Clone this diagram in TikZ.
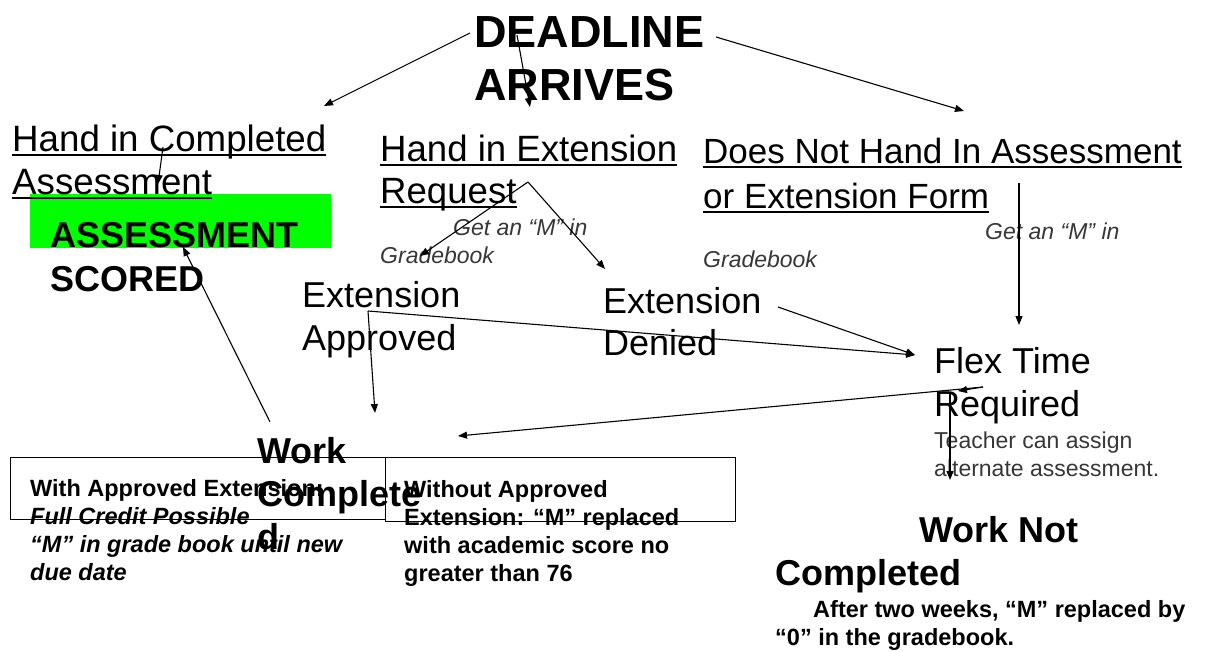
\documentclass[tikz,border=0pt]{standalone}
\usepackage{fontspec}
\setmainfont{Liberation Sans}
\usetikzlibrary{arrows.meta,positioning}
\definecolor{scoregreen}{RGB}{0,255,0}
\definecolor{notegray}{RGB}{55,55,55}
\newcommand{\undl}[1]{\setbox0\hbox{#1}\rlap{\vrule height -2.5pt depth 4.5pt width \wd0}\box0}
\newcommand{\fsz}[2]{\fontsize{#1}{#2}\selectfont}

\begin{document}
\begin{tikzpicture}[x=1pt, y=-1pt,
  txt/.style={anchor=base west, inner sep=0pt, align=left},
  head/.style={txt, font=\fsz{36}{42}},
  bighead/.style={txt, font=\fsz{45}{53}\bfseries},
  boldhead/.style={txt, font=\fsz{36}{43}\bfseries},
  note/.style={txt, font=\fsz{23}{28}\itshape, text=notegray},
  small/.style={txt, font=\fsz{23.5}{27.7}\bfseries},
  conn/.style={line width=1.1pt, -{Triangle[length=9pt,width=7pt]}},
  frame/.style={line width=1pt}]
\useasboundingbox (0,0) rectangle (1212,652);

\fill[scoregreen] (30,194) rectangle (331,248);

% top of the chart (multi-line nodes sit on their last baseline)
\node[bighead] (deadline) at (474,101) {DEADLINE\\ARRIVES};
\node[head, font=\fsz{36.7}{43}] (handin) at (12,195) {\undl{Hand in Completed}\\\undl{Assessment}};
\node[head, font=\fsz{36.6}{42}] (request) at (380,204) {\undl{Hand in Extension}\\\undl{Request}};
\node[head, font=\fsz{35}{45}] (nohand) at (703,209) {\undl{Does Not Hand In Assessment}\\\undl{or Extension Form}};
\node[boldhead, font=\fsz{36}{44}\bfseries] (scored) at (50,291) {ASSESSMENT\\SCORED};

\node[note] (getm-req) at (453,236) {Get an “M” in};
\node[note] (grade-req) at (380,264) {Gradebook};
\node[note] (getm-no) at (985,240) {Get an “M” in};
\node[note] (grade-no) at (703,268) {Gradebook};

% middle
\node[head, font=\fsz{36}{43}] (approved) at (302,350) {Extension\\Approved};
\node[head] (denied) at (603,355) {Extension\\Denied};
\node[head, font=\fsz{36}{43}] (flex) at (934,416) {Flex Time\\Required};
\node[txt, font=\fsz{23}{28}, text=notegray] (teacher) at (934,476) {Teacher can assign\\alternate assessment.};

% bottom
\draw[frame] (10,457) rectangle (385,519);
\draw[frame] (385,457) rectangle (735,521);
\node[small] (withext) at (30,580) {With Approved Extension:\\\textit{Full Credit Possible}\\\textit{“M” in grade book until new}\\\textit{due date}};
\node[small] (noext) at (404,581) {Without Approved\\Extension: “M” replaced\\with academic score no\\greater than 76};
\node[boldhead] (workdone) at (257,549) {Work\\Complete\\d};
\node[boldhead] (notdone) at (775,585) {\hspace*{144pt}Work Not\\Completed};
\node[small, font=\fsz{23.5}{28}\bfseries] (zero) at (775,645) {\hspace*{38pt}After two weeks, “M” replaced by\\“0” in the gradebook.};

% connector ends
\coordinate (dead-l) at (470,33);
\coordinate (dead-m) at (517,35);
\coordinate (dead-r) at (716,37);
\coordinate (handin-top) at (324,106);
\coordinate (request-top) at (530,107);
\coordinate (nohand-top) at (964,111);
\coordinate (handin-mid) at (163,147);
\coordinate (scored-top) at (158,184);
\coordinate (scored-bot) at (183,247);
\coordinate (workdone-top) at (270,422);
\coordinate (request-fork) at (528,182);
\coordinate (approved-top) at (420,256);
\coordinate (denied-top) at (605,269);
\coordinate (nohand-bot) at (1019,183);
\coordinate (flex-top) at (1019,325);
\coordinate (approved-fork) at (368,311);
\coordinate (approved-bot) at (375,413);
\coordinate (denied-out) at (778,307);
\coordinate (flex-in) at (915,355);
\coordinate (flex-out) at (983,387);
\coordinate (flex-mark) at (958,391);
\coordinate (workdone-in) at (458,436);
\coordinate (flex-bot) at (950,393);
\coordinate (notdone-top) at (950,480);

\draw[conn] (dead-l) -- (handin-top);
\draw[conn] (dead-m) -- (request-top);
\draw[conn] (dead-r) -- (nohand-top);
\draw[conn] (handin-mid) -- (scored-top);
\draw[conn] (workdone-top) -- (scored-bot);
\draw[conn] (request-fork) -- (approved-top);
\draw[conn] (request-fork) -- (denied-top);
\draw[conn] (nohand-bot) -- (flex-top);
\draw[conn] (approved-fork) -- (flex-in);
\draw[conn] (approved-fork) -- (approved-bot);
\draw[conn] (denied-out) -- (flex-in);
\draw[conn] (flex-out) -- (workdone-in);
\draw[conn] (flex-out) -- (flex-mark);
\draw[conn] (flex-bot) -- (notdone-top);
\end{tikzpicture}
\end{document}
